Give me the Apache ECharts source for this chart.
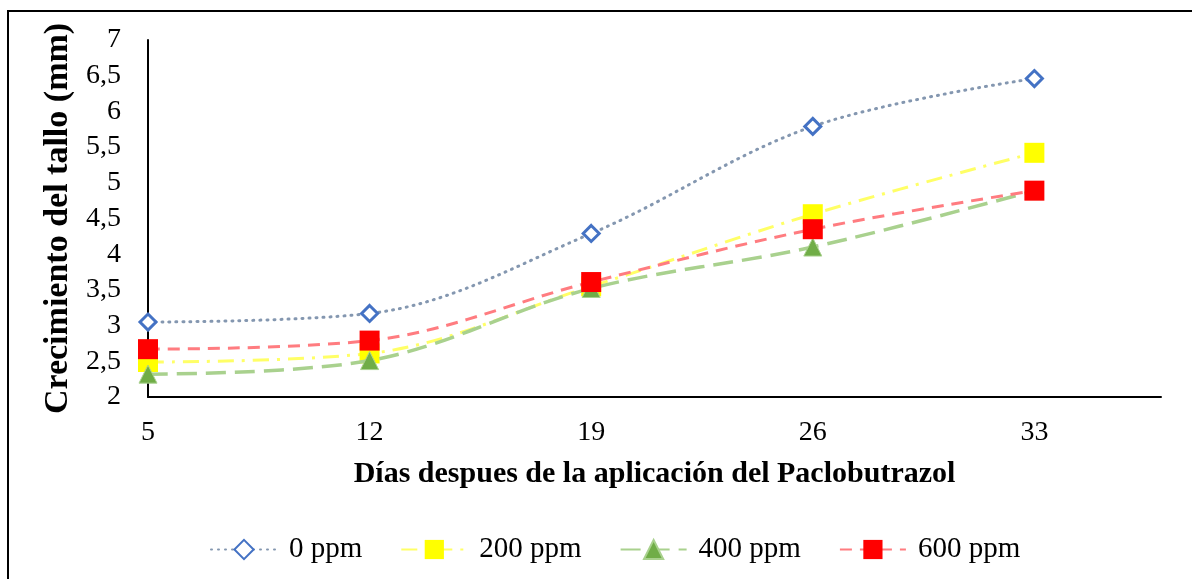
<!DOCTYPE html>
<html>
<head>
<meta charset="utf-8">
<script src="https://cdn.jsdelivr.net/npm/echarts@6/dist/echarts.min.js"></script>
<style>
  html, body { margin: 0; padding: 0; background: #fff; }
  #chart { width: 1192px; height: 579px; }
</style>
</head>
<body>
<div id="chart"></div>
<script>
// Days after applying Paclobutrazol
const days = [5, 12, 19, 26, 33];
// Stem growth (mm) per dose
const ppm0 = [3.05, 3.17, 4.29, 5.79, 6.46];
const ppm200 = [2.49, 2.61, 3.55, 4.56, 5.42];
const ppm400 = [2.32, 2.51, 3.52, 4.10, 4.89];
const ppm600 = [2.67, 2.79, 3.61, 4.35, 4.89];
const seriesNames = ['0 ppm', '200 ppm', '400 ppm', '600 ppm'];

const pairs = vals => days.map((d, i) => [d, vals[i]]);
const serif = 'Liberation Serif';

const chart = echarts.init(document.getElementById('chart'));
chart.setOption({
  backgroundColor: '#fff',
  animation: false,
  graphic: [{
    type: 'polyline',
    shape: { points: [[8, 620], [8, 11], [1220, 11]] },
    style: { fill: 'none', stroke: '#000', lineWidth: 2 },
    silent: true
  }],
  grid: { left: 148, right: 31, top: 40, bottom: 182 },
  legend: {
    data: seriesNames,
    left: 205,
    top: 530,
    itemWidth: 66,
    itemHeight: 24,
    itemGap: 38,
    textStyle: { fontFamily: serif, fontSize: 29, color: '#000', padding: [0, 0, 0, 7] }
  },
  xAxis: {
    type: 'value',
    min: 5,
    max: 37,
    interval: 7,
    name: 'Días despues de la aplicación del Paclobutrazol',
    nameLocation: 'middle',
    nameGap: 62,
    nameTextStyle: { fontFamily: serif, fontSize: 30, fontWeight: 'bold', color: '#000' },
    axisLine: { lineStyle: { color: '#000', width: 2 } },
    axisTick: { show: false },
    splitLine: { show: false },
    axisLabel: {
      showMaxLabel: false,
      margin: 22,
      fontFamily: serif, fontSize: 28, color: '#000'
    }
  },
  yAxis: {
    type: 'value',
    min: 2,
    max: 7,
    interval: 0.5,
    name: 'Crecimiento del tallo (mm)',
    nameLocation: 'middle',
    nameGap: 66,
    nameRotate: 90,
    nameTextStyle: { fontFamily: serif, fontSize: 34, fontWeight: 'bold', color: '#000' },
    axisLine: { show: true, lineStyle: { color: '#000', width: 2 } },
    axisTick: { show: false },
    splitLine: { show: false },
    axisLabel: {
      margin: 27,
      fontFamily: serif, fontSize: 28, color: '#000',
      formatter: v => String(v).replace('.', ',')
    }
  },
  series: [
    {
      name: seriesNames[0], type: 'line', smooth: 0.35, data: pairs(ppm0),
      symbol: 'diamond', symbolSize: 16,
      itemStyle: { color: '#fff', borderColor: '#4472C4', borderWidth: 3 },
      lineStyle: { color: '#8497B0', width: 3, type: [1, 6], cap: 'round' },
      z: 4
    },
    {
      name: seriesNames[1], type: 'line', smooth: 0.35, data: pairs(ppm200),
      symbol: 'rect', symbolSize: 20,
      itemStyle: { color: '#FFFF00', borderColor: '#FFFF00', borderWidth: 0 },
      lineStyle: { color: '#FFFF66', width: 3, type: [16, 8, 3, 8] },
      z: 2
    },
    {
      name: seriesNames[2], type: 'line', smooth: 0.35, data: pairs(ppm400),
      symbol: 'triangle', symbolSize: 18,
      itemStyle: { color: '#70AD47', borderColor: '#A9D18E', borderWidth: 1 },
      lineStyle: { color: '#A9D18E', width: 3.5, type: [20, 9] },
      z: 3
    },
    {
      name: seriesNames[3], type: 'line', smooth: 0.35, data: pairs(ppm600),
      symbol: 'rect', symbolSize: 20,
      itemStyle: { color: '#FF0000', borderColor: '#FF0000', borderWidth: 0 },
      lineStyle: { color: '#FF7C80', width: 3, type: [12, 8] },
      z: 5
    }
  ]
});
</script>
</body>
</html>
